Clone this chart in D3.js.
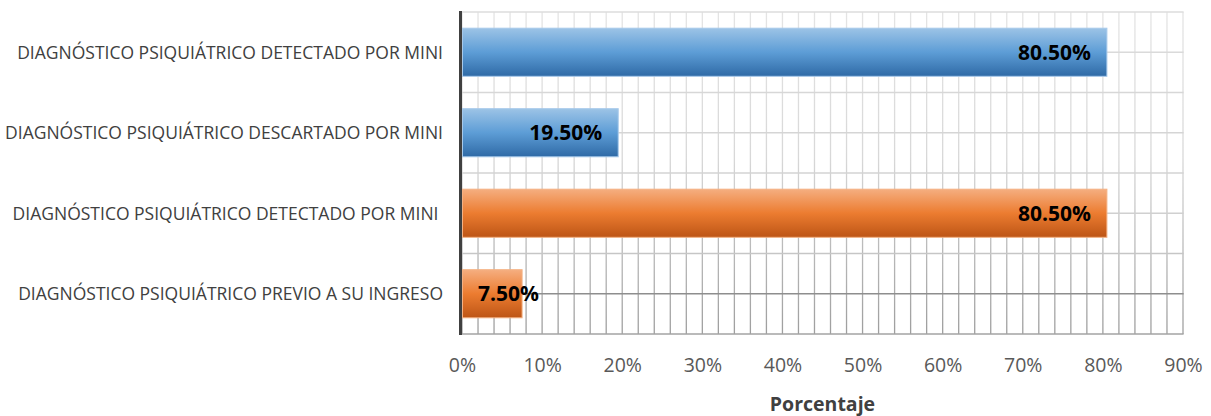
<!DOCTYPE html>
<html>
<head>
<meta charset="utf-8">
<script src="https://cdn.jsdelivr.net/npm/d3@7"></script>
<style>
  html, body { margin: 0; padding: 0; background: #fff; }
  svg { display: block; }
  text { font-family: "Open Sans", "Noto Sans", sans-serif; }
</style>
</head>
<body>
<svg id="chart" width="1211" height="416"></svg>
<script>
// Categories, top to bottom (the third label keeps its trailing space)
const categories = [
  "DIAGNÓSTICO PSIQUIÁTRICO DETECTADO POR MINI",
  "DIAGNÓSTICO PSIQUIÁTRICO DESCARTADO POR MINI",
  "DIAGNÓSTICO PSIQUIÁTRICO DETECTADO POR MINI ",
  "DIAGNÓSTICO PSIQUIÁTRICO PREVIO A SU INGRESO"
];
// Percentages for each category
const values = [80.5, 19.5, 80.5, 7.5];
// Colour group of each bar
const groups = ["blue", "blue", "orange", "orange"];
// Axis ticks
const tickValues = [0, 10, 20, 30, 40, 50, 60, 70, 80, 90];
const tickLabels = ["0%", "10%", "20%", "30%", "40%", "50%", "60%", "70%", "80%", "90%"];
const axisTitle = "Porcentaje";

const svg = d3.select("#chart");
const plot = { left: 462, right: 1183, top: 12, bottom: 334 };

const x = d3.scaleLinear().domain([0, 90]).range([plot.left, plot.right]);
const y = d3.scaleBand()
  .domain(d3.range(categories.length))
  .range([plot.top, plot.bottom])
  .paddingInner(0.39)
  .paddingOuter(0.195);

const defs = svg.append("defs");

// Bar fills: light top, saturated middle, dark bottom
const fills = {
  blue:   { stops: ["#9cc3e6", "#5d9dd6", "#2f6aa6"], edge: "#a7c9ea" },
  orange: { stops: ["#f5ae80", "#ec7c30", "#bd5516"], edge: "#f4b183" }
};
Object.entries(fills).forEach(([k, f]) => {
  const g = defs.append("linearGradient").attr("id", "grad-" + k)
    .attr("x1", 0).attr("y1", 0).attr("x2", 0).attr("y2", 1);
  g.append("stop").attr("offset", "0%").attr("stop-color", f.stops[0]);
  g.append("stop").attr("offset", "50%").attr("stop-color", f.stops[1]);
  g.append("stop").attr("offset", "100%").attr("stop-color", f.stops[2]);
});

// Gridlines darken toward the bottom of the plot
const gg = defs.append("linearGradient").attr("id", "grid-grad")
  .attr("gradientUnits", "userSpaceOnUse")
  .attr("x1", 0).attr("y1", plot.top).attr("x2", 0).attr("y2", plot.bottom);
gg.append("stop").attr("offset", "0%").attr("stop-color", "#e4e4e4");
gg.append("stop").attr("offset", "45%").attr("stop-color", "#d8d8d8");
gg.append("stop").attr("offset", "100%").attr("stop-color", "#9e9e9e");

const grid = svg.append("g");

// Vertical gridlines every 2%
grid.selectAll("line.v")
  .data(d3.range(0, 90.001, 2))
  .join("line")
  .attr("x1", d => x(d)).attr("x2", d => x(d))
  .attr("y1", plot.top).attr("y2", plot.bottom)
  .attr("stroke", "url(#grid-grad)")
  .attr("stroke-width", 1.3);

// Horizontal gridlines at band edges and band centres
const hLines = [];
categories.forEach((c, i) => {
  hLines.push(y(i) - y.step() * y.paddingInner() / 2);
  hLines.push(y(i) + y.bandwidth() / 2);
});
hLines.push(plot.bottom);
const hColor = d3.scaleLinear().domain([plot.top, plot.bottom * 0.7, plot.bottom])
  .range(["#dcdcdc", "#cfcfcf", "#a3a3a3"]);
grid.selectAll("line.h")
  .data(hLines)
  .join("line")
  .attr("x1", plot.left).attr("x2", plot.right + 0.6)
  .attr("y1", d => d).attr("y2", d => d)
  .attr("stroke", (d, i) => i === hLines.length - 2 ? "#8e8e8e" : hColor(d))
  .attr("stroke-width", 1.3);

// Category axis line
svg.append("line")
  .attr("x1", plot.left - 1.5).attr("x2", plot.left - 1.5)
  .attr("y1", plot.top - 1).attr("y2", plot.bottom + 1)
  .attr("stroke", "#404040").attr("stroke-width", 3);

// Bars
svg.append("g").selectAll("rect")
  .data(values)
  .join("rect")
  .attr("x", x(0) + 0.5)
  .attr("y", (d, i) => y(i) + 0.5)
  .attr("width", d => x(d) - x(0) - 0.5)
  .attr("height", y.bandwidth() - 1)
  .attr("fill", (d, i) => `url(#grad-${groups[i]})`)
  .attr("stroke", (d, i) => fills[groups[i]].edge)
  .attr("stroke-width", 1);

// Value labels at the inside end of each bar
const pad = 16;
svg.append("g").selectAll("text")
  .data(values)
  .join("text")
  .attr("y", (d, i) => y(i) + y.bandwidth() / 2)
  .attr("dy", "0.36em")
  .attr("text-anchor", "end")
  .style("font-size", "21px")
  .style("font-weight", "700")
  .attr("fill", "#000")
  .text(d => d.toFixed(2) + "%")
  .each(function (d) {
    const w = this.getComputedTextLength();
    d3.select(this).attr("x", Math.max(x(d) - pad, x(0) + pad + w));
  });

// Category labels, right aligned beside the axis
svg.append("g").selectAll("text")
  .data(categories)
  .join("text")
  .attr("x", 443)
  .attr("y", (d, i) => y(i) + y.bandwidth() / 2)
  .attr("dy", "0.36em")
  .attr("text-anchor", "end")
  .attr("xml:space", "preserve")
  .style("white-space", "pre")
  .style("font-size", "17.5px")
  .attr("fill", "#404040")
  .text(d => d);

// Value axis
const axis = d3.axisBottom(x)
  .tickValues(tickValues)
  .tickFormat((d, i) => tickLabels[i])
  .tickSize(0)
  .tickPadding(24);
const ax = svg.append("g")
  .attr("transform", `translate(0,${plot.bottom})`)
  .call(axis);
ax.select(".domain").remove();
ax.selectAll("text")
  .style("font-family", "'Open Sans', sans-serif")
  .style("font-size", "19.5px")
  .attr("fill", "#595959");

// Axis title
svg.append("text")
  .attr("x", (plot.left + plot.right) / 2)
  .attr("y", 411)
  .attr("text-anchor", "middle")
  .style("font-size", "19.5px")
  .style("font-weight", "700")
  .attr("fill", "#404040")
  .text(axisTitle);
</script>
</body>
</html>
